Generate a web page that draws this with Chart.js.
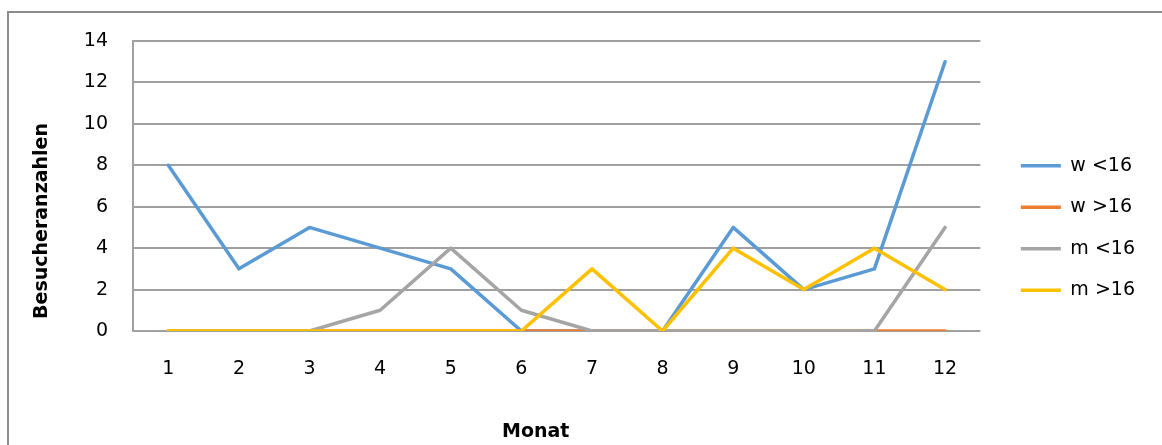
<!DOCTYPE html>
<html>
<head>
<meta charset="utf-8">
<script src="https://cdn.jsdelivr.net/npm/chart.js@4/dist/chart.umd.min.js"></script>
<style>
  html, body { margin: 0; padding: 0; background: #fff; overflow: hidden; }
  #wrap { position: relative; width: 1162px; height: 445px; }
  #frame { position: absolute; left: 7px; top: 11px; width: 2000px; height: 2000px;
           border-left: 2px solid #8c8c8c; border-top: 2px solid #8c8c8c; box-sizing: border-box; }
  canvas { position: absolute; left: 0; top: 0; }
</style>
</head>
<body>
<div id="wrap">
  <div id="frame"></div>
  <canvas id="c" width="1162" height="445"></canvas>
</div>
<script>
const months = ['1','2','3','4','5','6','7','8','9','10','11','12'];
const wUnder16 = [8, 3, 5, 4, 3, 0, 0, 0, 5, 2, 3, 13];
const wOver16  = [0, 0, 0, 0, 0, 0, 0, 0, 0, 0, 0, 0];
const mUnder16 = [0, 0, 0, 1, 4, 1, 0, 0, 0, 0, 0, 5];
const mOver16  = [0, 0, 0, 0, 0, 0, 3, 0, 4, 2, 4, 2];
const seriesNames = ['w <16', 'w >16', 'm <16', 'm >16'];
const xTitle = 'Monat';
const yTitle = 'Besucheranzahlen';

const FONT = '"DejaVu Sans", sans-serif';

function ds(label, data, color, order) {
  return {
    label, data, borderColor: color, backgroundColor: color,
    borderWidth: 3.5, pointRadius: 0, pointHoverRadius: 0, tension: 0,
    borderCapStyle: 'round', borderJoinStyle: 'round', order, fill: false
  };
}

const titlePlugin = {
  id: 'axisTitles',
  afterDraw(chart) {
    const ctx = chart.ctx, a = chart.chartArea;
    ctx.save();
    ctx.fillStyle = '#000';
    ctx.font = 'bold 19px ' + FONT;
    ctx.textAlign = 'center';
    ctx.textBaseline = 'middle';
    ctx.fillText(xTitle, (a.left + a.right) / 2 - 21, a.bottom + 101);
    ctx.translate(42, (a.top + a.bottom) / 2 + 35);
    ctx.rotate(-Math.PI / 2);
    ctx.fillText(yTitle, 0, 0);
    ctx.restore();
  }
};

new Chart(document.getElementById('c'), {
  type: 'line',
  data: {
    labels: months,
    datasets: [
      ds(seriesNames[0], wUnder16, '#5B9BD5', 4),
      ds(seriesNames[1], wOver16, '#ED7D31', 3),
      ds(seriesNames[2], mUnder16, '#A5A5A5', 2),
      ds(seriesNames[3], mOver16, '#FFC000', 1)
    ]
  },
  options: {
    responsive: false,
    animation: false,
    events: [],
    layout: { padding: { left: 0, top: 11, right: 17, bottom: 0 } },
    plugins: {
      tooltip: { enabled: false },
      legend: {
        position: 'right',
        align: 'center',
        labels: {
          usePointStyle: true,
          pointStyle: 'line',
          pointStyleWidth: 40,
          padding: 22.5,
          color: '#000',
          font: { family: FONT, size: 19 },
          sort: (a, b) => a.datasetIndex - b.datasetIndex
        }
      }
    },
    scales: {
      x: {
        offset: true,
        grid: { display: false },
        border: { display: false },
        ticks: { color: '#000', font: { family: FONT, size: 19 }, padding: 19, maxRotation: 0 },
        afterFit(s) { s.height = 114; }
      },
      x2: {
        position: 'top',
        display: true,
        grid: { display: false },
        border: { display: false },
        ticks: { display: false },
        afterFit(s) { s.height = 30; }
      },
      y: {
        min: 0, max: 14,
        ticks: { stepSize: 2, color: '#000', font: { family: FONT, size: 19 }, padding: 25 },
        grid: { color: '#a0a0a0', lineWidth: 2, drawTicks: false },
        border: { display: true, color: '#a0a0a0', width: 2 },
        afterFit(s) { s.width = 133; }
      },
      y2: {
        position: 'right',
        display: true,
        grid: { display: false },
        border: { display: false },
        ticks: { display: false },
        afterFit(s) { s.width = 18; }
      }
    }
  },
  plugins: [titlePlugin]
});
</script>
</body>
</html>
